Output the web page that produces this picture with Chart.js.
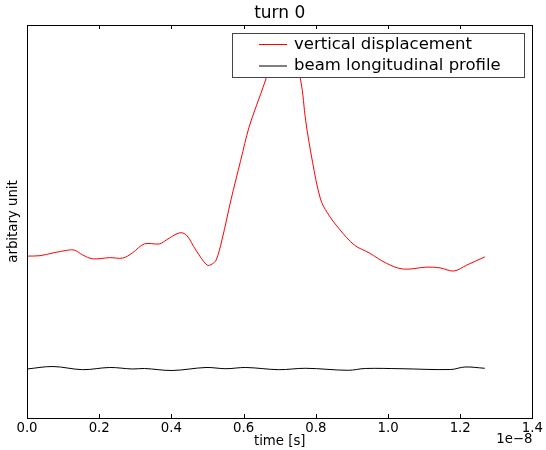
<!DOCTYPE html>
<html>
<head>
<meta charset="utf-8">
<script src="https://cdn.jsdelivr.net/npm/chart.js@4"></script>
<style>
  html, body { margin: 0; padding: 0; background: #fff; }
  #wrap { width: 546px; height: 450px; }
</style>
</head>
<body>
<div id="wrap"><canvas id="grafico"></canvas></div>
<script>
/* ===== data (time in units of 1e-8 s, values in arbitrary units) ===== */
const tempoVert = [0, 0.036, 0.072, 0.113, 0.132, 0.154, 0.182, 0.229, 0.265, 0.292, 0.325, 0.367, 0.386, 0.422, 0.441, 0.468, 0.499, 0.513, 0.524, 0.540, 0.565, 0.592, 0.615, 0.636, 0.659, 0.683, 0.708, 0.730, 0.758, 0.772, 0.791, 0.813, 0.832, 0.865, 0.907, 0.948, 0.995, 1.042, 1.108, 1.144, 1.182, 1.218, 1.268];
const deslocVert = [0.412, 0.413, 0.420, 0.427, 0.427, 0.415, 0.405, 0.408, 0.407, 0.420, 0.443, 0.443, 0.453, 0.471, 0.466, 0.427, 0.389, 0.392, 0.402, 0.453, 0.555, 0.656, 0.740, 0.796, 0.855, 0.924, 0.967, 0.949, 0.860, 0.756, 0.651, 0.557, 0.522, 0.481, 0.440, 0.420, 0.394, 0.379, 0.384, 0.382, 0.374, 0.389, 0.410];

const tempoPerfil = [0, 0.072, 0.154, 0.229, 0.292, 0.325, 0.402, 0.496, 0.551, 0.606, 0.697, 0.772, 0.890, 0.937, 1.036, 1.174, 1.213, 1.268];
const perfilLong = [0.1247, 0.131, 0.123, 0.1285, 0.1247, 0.126, 0.1209, 0.1285, 0.1254, 0.1285, 0.123, 0.1265, 0.1214, 0.126, 0.1254, 0.1234, 0.1298, 0.1265];

const xTicks = [0, 0.2, 0.4, 0.6, 0.8, 1.0, 1.2, 1.4];
const nomes = ["vertical displacement", "beam longitudinal profile"];
const cores = ["#ff0000", "#000000"];

const FONTE = "'DejaVu Sans', sans-serif";

/* ===== moldura, ticks internos, legenda, offset ===== */
const estiloMpl = {
  id: "estiloMpl",
  afterDraw(chart) {
    const ctx = chart.ctx;
    const a = chart.chartArea;
    const xs = chart.scales.x;
    ctx.save();
    ctx.strokeStyle = "#000";
    ctx.lineWidth = 1;
    ctx.strokeRect(Math.round(a.left) + 0.5, Math.round(a.top) + 0.5,
      Math.round(a.right - a.left), Math.round(a.bottom - a.top));
    xTicks.forEach(v => {
      const px = Math.round(xs.getPixelForValue(v)) + 0.5;
      ctx.beginPath();
      ctx.moveTo(px, a.bottom); ctx.lineTo(px, a.bottom - 4);
      ctx.moveTo(px, a.top); ctx.lineTo(px, a.top + 4);
      ctx.stroke();
    });

    // legenda
    const bx = 232.5, by = 33.5, bw = 292, bh = 44;
    ctx.fillStyle = "#fff";
    ctx.fillRect(bx, by, bw, bh);
    ctx.strokeStyle = "#444";
    ctx.strokeRect(bx, by, bw, bh);
    ctx.font = "16.5px " + FONTE;
    ctx.textBaseline = "middle";
    ctx.textAlign = "left";
    nomes.forEach((n, i) => {
      const y = 44.5 + i * 21.5;
      ctx.strokeStyle = cores[i];
      ctx.beginPath();
      ctx.moveTo(259, y); ctx.lineTo(287, y);
      ctx.stroke();
      ctx.fillStyle = "#000";
      ctx.fillText(n, 294, y);
    });

    // offset do eixo x
    ctx.font = "13.3px " + FONTE;
    ctx.textAlign = "right";
    ctx.fillText("1e\u22128", a.right, 440);
    ctx.restore();
  }
};

new Chart(document.getElementById("grafico"), {
  type: "line",
  data: {
    datasets: [
      {
        label: nomes[0],
        data: tempoVert.map((t, i) => ({ x: t, y: deslocVert[i] })),
        borderColor: cores[0],
        borderWidth: 1,
        pointRadius: 0,
        tension: 0.35
      },
      {
        label: nomes[1],
        data: tempoPerfil.map((t, i) => ({ x: t, y: perfilLong[i] })),
        borderColor: cores[1],
        borderWidth: 1,
        pointRadius: 0,
        tension: 0.35
      }
    ]
  },
  plugins: [estiloMpl],
  options: {
    responsive: true,
    maintainAspectRatio: false,
    animation: false,
    layout: { padding: { left: 0, right: 11, top: 0, bottom: 0 } },
    plugins: {
      legend: { display: false },
      tooltip: { enabled: false },
      title: {
        display: true,
        fullSize: false,
        text: "turn 0",
        color: "#000",
        font: { family: FONTE, size: 17, weight: "normal" },
        padding: { top: 3, bottom: 1.6 }
      }
    },
    scales: {
      x: {
        type: "linear",
        min: 0,
        max: 1.4,
        afterBuildTicks: s => { s.ticks = xTicks.map(v => ({ value: v })); },
        afterFit: s => { s.height = 32; },
        grid: { display: false, drawTicks: false, tickLength: 0 },
        border: { display: false },
        ticks: {
          color: "#000",
          padding: 3,
          maxRotation: 0,
          font: { family: FONTE, size: 13.3 },
          callback: v => v.toFixed(1)
        },
        title: {
          display: true,
          text: "time [s]",
          color: "#000",
          padding: { top: 0, bottom: 0 },
          font: { family: FONTE, size: 13.3 }
        }
      },
      y: {
        min: 0,
        max: 1,
        afterFit: s => { s.width = 27; },
        grid: { display: false, drawTicks: false, tickLength: 0 },
        border: { display: false },
        ticks: { display: false },
        title: {
          display: true,
          text: "arbitary unit",
          color: "#000",
          padding: { top: 6, bottom: 0 },
          font: { family: FONTE, size: 13.3 }
        }
      }
    }
  }
});
</script>
</body>
</html>
